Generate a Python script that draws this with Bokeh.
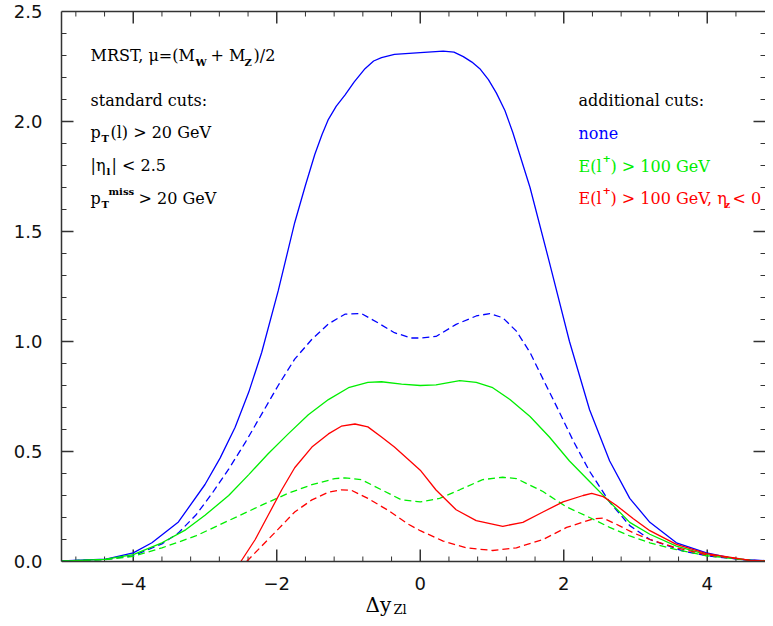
import math
from bokeh.plotting import figure
from bokeh.models import Range1d, LinearAxis, SingleIntervalTicker, Label, Span
from bokeh.embed import file_html
from bokeh.resources import INLINE

# ---------------- data ----------------
blue_solid_x = [-5, -4.38, -4.0, -3.74, -3.37, -3.0, -2.79, -2.58, -2.39, -2.21, -1.98, -1.75, -1.60, -1.47,
                -1.37, -1.28, -1.17, -1.05, -0.92, -0.77, -0.65, -0.54, -0.36, 0, 0.32, 0.47, 0.6, 0.72,
                0.83, 0.95, 1.06, 1.18, 1.29, 1.53, 1.80, 2.08, 2.36, 2.64, 2.92, 3.2, 3.57, 3.99, 4.41,
                4.93]
blue_solid_y = [0.003, 0.011, 0.039, 0.085, 0.18, 0.35, 0.47, 0.61, 0.77, 0.95, 1.23, 1.54, 1.71, 1.85,
                1.94, 2.01, 2.07, 2.12, 2.18, 2.24, 2.275, 2.29, 2.305, 2.313, 2.32, 2.315, 2.295, 2.27,
                2.24, 2.19, 2.13, 2.05, 1.95, 1.70, 1.36, 1.0, 0.69, 0.457, 0.287, 0.178, 0.085, 0.039,
                0.011, 0.002]

blue_dash_x = [-5, -4.4, -4.0, -3.6, -3.37, -3.13, -2.90, -2.67, -2.44, -2.21, -1.98, -1.75, -1.51, -1.28,
               -1.05, -0.82, -0.59, -0.36, -0.125, 0, 0.22, 0.5, 0.78, 0.97, 1.15, 1.34, 1.53, 1.71, 1.9,
               2.13, 2.36, 2.64, 2.92, 3.2, 3.67, 3.99, 4.6, 4.93]
blue_dash_y = [0.002, 0.009, 0.026, 0.08, 0.13, 0.21, 0.31, 0.42, 0.54, 0.67, 0.80, 0.92, 1.01, 1.08,
               1.124, 1.127, 1.085, 1.04, 1.016, 1.016, 1.023, 1.078, 1.116, 1.127, 1.108, 1.047, 0.95,
               0.83, 0.705, 0.55, 0.41, 0.27, 0.163, 0.10, 0.047, 0.026, 0.005, 0.001]

green_solid_x = [-5, -4.4, -4.0, -3.6, -3.27, -3.0, -2.67, -2.39, -2.12, -1.84, -1.56, -1.28, -1.0, -0.73,
                 -0.54, -0.26, 0, 0.22, 0.55, 0.78, 1.01, 1.25, 1.53, 1.80, 2.08, 2.36, 2.64, 2.92, 3.2,
                 3.57, 3.99, 4.6, 4.93]
green_solid_y = [0.002, 0.01, 0.031, 0.085, 0.144, 0.21, 0.30, 0.395, 0.49, 0.58, 0.667, 0.736, 0.79, 0.814,
                 0.817, 0.806, 0.80, 0.803, 0.822, 0.814, 0.79, 0.736, 0.659, 0.566, 0.457, 0.364, 0.271,
                 0.178, 0.124, 0.07, 0.031, 0.005, 0.001]

green_dash_x = [-5, -4.4, -4.0, -3.6, -3.13, -2.67, -2.21, -1.84, -1.51, -1.19, -1.05, -0.82, -0.54, -0.26,
                0, 0.27, 0.55, 0.87, 1.15, 1.34, 1.71, 2.04, 2.36, 2.64, 2.92, 3.2, 3.57, 3.99, 4.6, 4.93]
green_dash_y = [0.002, 0.008, 0.023, 0.062, 0.116, 0.186, 0.256, 0.31, 0.349, 0.377, 0.38, 0.372, 0.326,
                0.28, 0.271, 0.287, 0.326, 0.372, 0.383, 0.377, 0.318, 0.248, 0.2, 0.155, 0.116, 0.085,
                0.054, 0.026, 0.005, 0.001]

red_solid_x = [-2.50, -2.30, -2.12, -1.93, -1.75, -1.51, -1.28, -1.10, -0.91, -0.73, -0.54, -0.36, -0.17, 0,
               0.22, 0.5, 0.78, 1.15, 1.43, 1.71, 1.99, 2.27, 2.39, 2.55, 2.73, 2.97, 3.2, 3.57, 3.99, 4.6,
               4.93]
red_solid_y = [0.0, 0.10, 0.21, 0.326, 0.426, 0.52, 0.58, 0.615, 0.625, 0.612, 0.566, 0.52, 0.465, 0.415,
               0.325, 0.235, 0.186, 0.16, 0.178, 0.225, 0.271, 0.30, 0.31, 0.295, 0.256, 0.194, 0.14,
               0.078, 0.036, 0.005, 0.001]

red_dash_x = [-2.42, -2.21, -1.98, -1.75, -1.51, -1.28, -1.10, -0.96, -0.73, -0.45, -0.17, 0, 0.32, 0.64,
              1.01, 1.34, 1.71, 2.04, 2.41, 2.55, 2.73, 2.97, 3.2, 3.57, 3.99, 4.6, 4.93]
red_dash_y = [0.0, 0.07, 0.147, 0.225, 0.28, 0.315, 0.326, 0.324, 0.287, 0.233, 0.17, 0.14, 0.093, 0.062,
              0.05, 0.062, 0.10, 0.155, 0.194, 0.197, 0.17, 0.13, 0.10, 0.062, 0.031, 0.005, 0.001]

x_major_ticks = [-4, -2, 0, 2, 4]
x_minor_ticks = [-4.8, -4.4, -3.6, -3.2, -2.8, -2.4, -1.6, -1.2, -0.8, -0.4,
                 0.4, 0.8, 1.2, 1.6, 2.4, 2.8, 3.2, 3.6, 4.4]
y_major_ticks = [0.5, 1.0, 1.5, 2.0]
y_minor_ticks = [0.1, 0.2, 0.3, 0.4, 0.6, 0.7, 0.8, 0.9, 1.1, 1.2, 1.3, 1.4,
                 1.6, 1.7, 1.8, 1.9, 2.1, 2.2, 2.3, 2.4]
x_tick_labels = {-4: "\u22124", -2: "\u22122", 0: "0", 2: "2", 4: "4"}
y_tick_labels = {0: "0.0", 0.5: "0.5", 1: "1.0", 1.5: "1.5", 2: "2.0", 2.5: "2.5"}

BLUE, GREEN, RED = "#0000ff", "#00ee00", "#ff0000"
AXC = "#333333"

# ---------------- figure ----------------
# The frame reaches the bottom of the canvas so that the x tick labels and the
# x title (drawn as labels) lie inside it; the data box itself is x0..x1, 0..2.5.
W, H = 765, 618
BL, BR, BT, BB = 61, 0, 11, 0
FW, FH = W - BL - BR, H - BT - BB
PX_PER_X = 71.75
PX_PER_Y = 220.0
Y0_PX = 561                      # picture row of y = 0
X0, Y0, Y1 = -5.0, 0.0, 2.5
X1 = X0 + FW / PX_PER_X
YB = Y0 - (H - Y0_PX) / PX_PER_Y  # bottom of the frame (below the data box)

p = figure(width=W, height=H, x_range=Range1d(X0, X1), y_range=Range1d(YB, Y1),
           output_backend="svg", toolbar_location=None, x_axis_type=None, y_axis_type=None,
           min_border_left=BL, min_border_right=BR, min_border_top=BT, min_border_bottom=BB)
p.xgrid.visible = False
p.ygrid.visible = False
p.outline_line_color = None
p.background_fill_color = "white"
p.border_fill_color = "white"

# left axis: tick labels + frame line over 0..2.5
yl = LinearAxis(ticker=SingleIntervalTicker(interval=0.5, num_minor_ticks=5))
yl.bounds = (Y0, Y1)
yl.major_tick_in = yl.major_tick_out = yl.minor_tick_in = yl.minor_tick_out = 0
yl.major_tick_line_color = None
yl.minor_tick_line_color = None
yl.axis_line_color = AXC
yl.axis_line_width = 1.5
yl.major_label_text_font = "DejaVu Sans"
yl.major_label_text_font_size = "18px"
yl.major_label_text_color = "#111111"
yl.major_label_overrides = y_tick_labels
yl.major_label_standoff = 19
p.add_layout(yl, "left")

# top axis: frame line only
xa = LinearAxis(ticker=SingleIntervalTicker(interval=2, num_minor_ticks=5))
xa.major_tick_in = xa.major_tick_out = xa.minor_tick_in = xa.minor_tick_out = 0
xa.major_tick_line_color = None
xa.minor_tick_line_color = None
xa.axis_line_color = AXC
xa.axis_line_width = 1.5
xa.major_label_text_font_size = "0px"
xa.major_label_standoff = 0
xa.major_label_text_color = None
p.add_layout(xa, "above")

# bottom frame line at y = 0
p.add_layout(Span(location=Y0, dimension="width", line_color=AXC, line_width=1.5))

# inner tick marks
MAJ, MIN = 12, 5
p.ray(x_major_ticks, [Y0] * len(x_major_ticks), length=MAJ, length_units="screen", angle=math.pi / 2,
      line_color=AXC, line_width=1.5)
p.ray(x_minor_ticks, [Y0] * len(x_minor_ticks), length=MIN, length_units="screen", angle=math.pi / 2,
      line_color=AXC, line_width=1)
p.ray(x_major_ticks, [Y1] * len(x_major_ticks), length=MAJ, length_units="screen", angle=-math.pi / 2,
      line_color=AXC, line_width=1.5)
p.ray(x_minor_ticks, [Y1] * len(x_minor_ticks), length=MIN, length_units="screen", angle=-math.pi / 2,
      line_color=AXC, line_width=1)
p.ray([X0] * len(y_major_ticks), y_major_ticks, length=MAJ, length_units="screen", angle=0,
      line_color=AXC, line_width=1.5)
p.ray([X0] * len(y_minor_ticks), y_minor_ticks, length=MIN, length_units="screen", angle=0,
      line_color=AXC, line_width=1)
p.ray([X1] * len(y_major_ticks), y_major_ticks, length=MAJ, length_units="screen", angle=math.pi,
      line_color=AXC, line_width=1.5)
p.ray([X1] * len(y_minor_ticks), y_minor_ticks, length=MIN, length_units="screen", angle=math.pi,
      line_color=AXC, line_width=1)

# ---------------- curves ----------------
LW = 1.3
DASH = "7 4"
p.line(blue_solid_x, blue_solid_y, line_color=BLUE, line_width=LW)
p.line(blue_dash_x, blue_dash_y, line_color=BLUE, line_width=LW, line_dash=DASH)
p.line(green_solid_x, green_solid_y, line_color=GREEN, line_width=LW)
p.line(green_dash_x, green_dash_y, line_color=GREEN, line_width=LW, line_dash=DASH)
p.line(red_solid_x, red_solid_y, line_color=RED, line_width=LW)
p.line(red_dash_x, red_dash_y, line_color=RED, line_width=LW, line_dash=DASH)


# ---------------- texts ----------------
def yd(py):
    return Y0 - (py - Y0_PX) / PX_PER_Y


def T(px, py, text, size=16, color="black", bold=False, font="DejaVu Serif"):
    """Place a text piece with its left end / vertical centre at picture pixel (px, py)."""
    x = X0 + (px - BL) / PX_PER_X
    p.add_layout(Label(x=x, y=yd(py), text=text, text_font=font, text_font_size=f"{size}px",
                       text_color=color, text_font_style="bold" if bold else "normal",
                       text_baseline="middle", text_align="left"))


# x tick labels
for xv, s in x_tick_labels.items():
    p.add_layout(Label(x=xv, y=yd(583), text=s, text_font="DejaVu Sans", text_font_size="18px",
                       text_color="#111111", text_align="center", text_baseline="middle"))

SUB = 10
# left block
T(90, 55, "MRST, \u03bc=(M")
T(195, 62, "W", SUB, bold=True)
T(210, 55, "+ M")
T(244, 62, "Z", SUB, bold=True)
T(253, 55, ")/2")

T(90, 100, "standard cuts:")

T(90, 132, "p")
T(101, 138, "T", SUB, bold=True)
T(110, 132, "(l) > 20 GeV")

T(90, 165, "|\u03b7")
T(106, 171, "l", SUB, bold=True)
T(111, 165, "| < 2.5")

T(90, 198, "p")
T(101, 204, "T", SUB, bold=True)
T(108, 191, "miss", SUB, bold=True)
T(138, 198, "> 20 GeV")

# right block
T(578, 100, "additional cuts:")
T(578, 133, "none", color=BLUE)

T(578, 166, "E(l", color=GREEN)
T(602, 158, "+", SUB, color=GREEN, bold=True)
T(610, 166, ") > 100 GeV", color=GREEN)

T(578, 198, "E(l", color=RED)
T(602, 190, "+", SUB, color=RED, bold=True)
T(610, 198, ") > 100 GeV, \u03b7", color=RED)
T(724, 204, "z", SUB, color=RED, bold=True)
T(732, 198, "< 0", color=RED)

# x-axis title
T(365, 604, "\u0394y", 20, font="DejaVu Serif")
T(393, 609, "Zl", 13, font="DejaVu Serif")

open("out.html", "w").write(file_html(p, INLINE))
